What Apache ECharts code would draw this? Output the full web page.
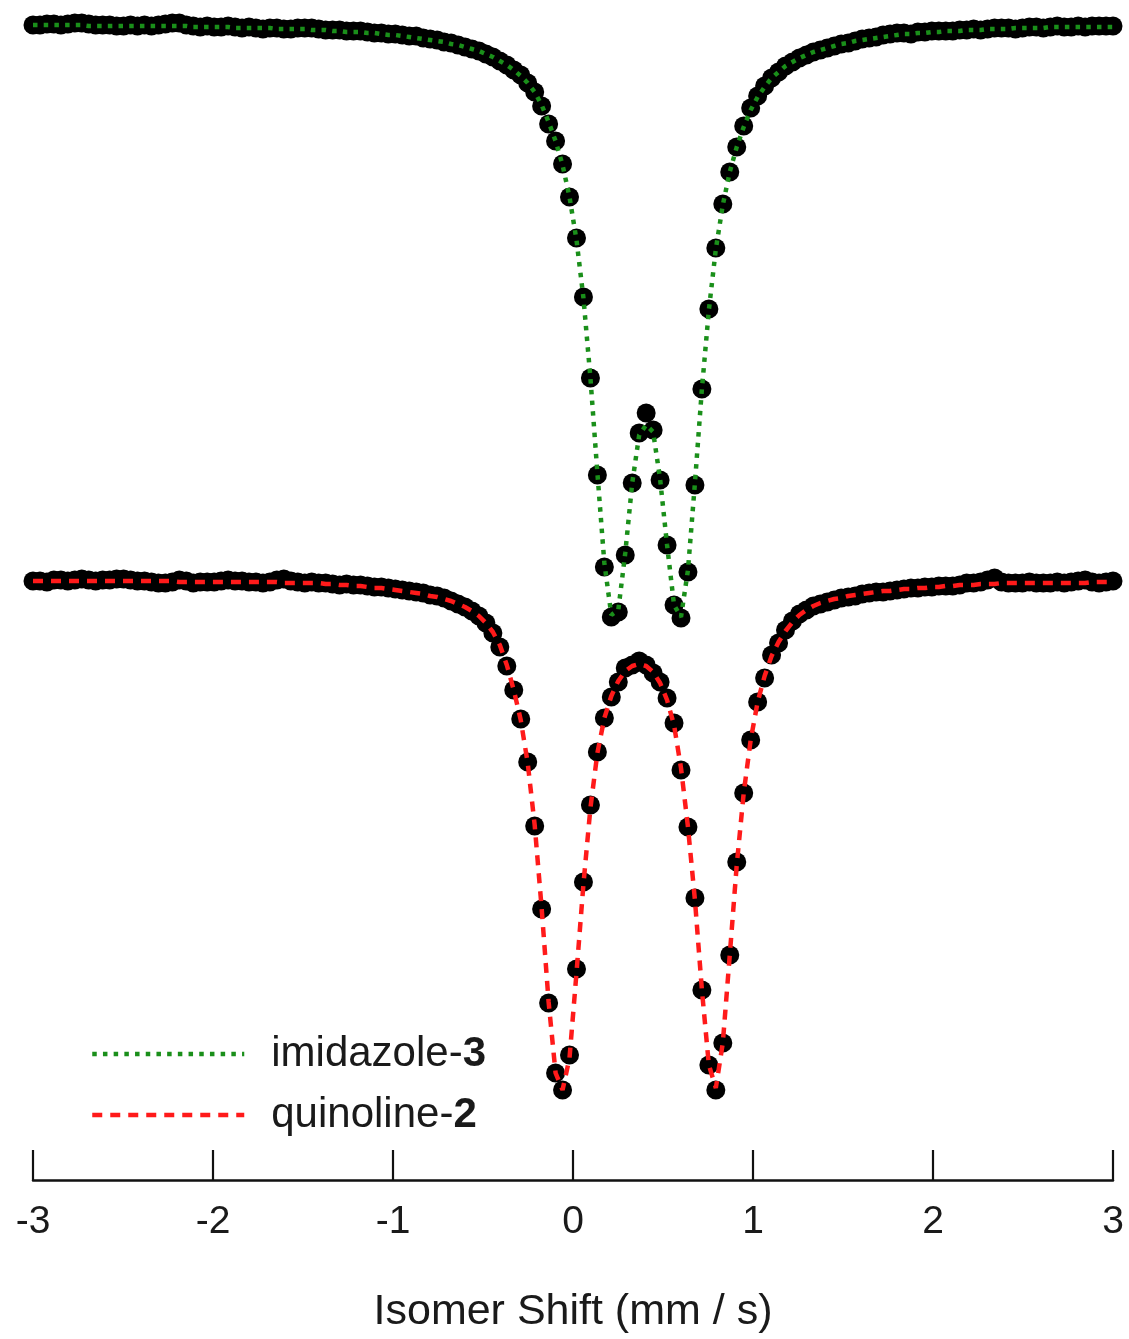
<!DOCTYPE html>
<html><head><meta charset="utf-8">
<script src="https://cdn.jsdelivr.net/npm/echarts@6/dist/echarts.min.js"></script>
<style>html,body{margin:0;padding:0;background:#fff}#chart{width:1129px;height:1339px}</style>
</head><body><div id="chart"></div>
<script>
// Velocity channels (mm/s), evenly spaced from -3 to 3
const velocityStart = -3, velocityEnd = 3, channelCount = 156;
const xTicks = [-3, -2, -1, 0, 1, 2, 3];
const seriesNames = ['imidazole-3', 'quinoline-2'];
const axisTitle = 'Isomer Shift (mm / s)';

// Relative transmission (%), imidazole-3 (upper spectrum)
const imidazoleData = [
 100.00,100.00,100.01,100.01,100.00,100.01,100.02,100.02,100.01,100.00,
 100.00,100.00,99.99,99.99,100.00,99.99,100.00,99.99,100.00,100.01,
 100.02,100.02,100.00,99.99,99.98,99.99,99.98,99.98,99.99,99.98,
 99.97,99.98,99.97,99.96,99.97,99.97,99.96,99.96,99.97,99.97,
 99.97,99.96,99.95,99.95,99.95,99.94,99.94,99.94,99.93,99.92,
 99.92,99.91,99.91,99.90,99.89,99.89,99.87,99.86,99.85,99.83,
 99.82,99.80,99.78,99.76,99.74,99.71,99.68,99.64,99.60,99.55,
 99.50,99.42,99.33,99.19,99.01,98.84,98.61,98.28,97.87,97.28,
 96.47,95.50,94.58,94.08,94.13,94.70,95.42,95.92,96.12,95.95,
 95.45,94.80,94.20,94.07,94.53,95.40,96.36,97.16,97.77,98.21,
 98.53,98.78,98.99,99.17,99.29,99.39,99.47,99.53,99.59,99.63,
 99.67,99.70,99.73,99.75,99.77,99.79,99.81,99.82,99.84,99.86,
 99.87,99.88,99.90,99.91,99.92,99.92,99.91,99.93,99.93,99.94,
 99.94,99.94,99.94,99.95,99.95,99.96,99.95,99.96,99.97,99.97,
 99.97,99.96,99.97,99.98,99.98,99.97,99.98,99.99,99.98,99.98,
 99.99,99.98,99.99,99.99,99.99,99.99];
const imidazoleFit = [
 100.00,100.00,100.00,100.00,100.00,100.00,100.00,100.00,99.99,99.99,
 99.99,99.99,99.99,99.99,99.99,99.99,99.99,99.99,99.99,99.99,
 99.99,99.99,99.99,99.98,99.98,99.98,99.98,99.98,99.98,99.97,
 99.97,99.97,99.97,99.97,99.97,99.96,99.96,99.96,99.96,99.96,
 99.95,99.95,99.95,99.94,99.94,99.93,99.93,99.93,99.92,99.92,
 99.91,99.90,99.90,99.89,99.88,99.87,99.86,99.85,99.84,99.83,
 99.81,99.80,99.78,99.76,99.74,99.71,99.68,99.64,99.60,99.55,
 99.49,99.42,99.33,99.20,99.03,98.84,98.60,98.28,97.85,97.27,
 96.47,95.52,94.62,94.10,94.15,94.72,95.42,95.90,96.00,95.93,
 95.46,94.80,94.20,94.08,94.55,95.42,96.36,97.15,97.76,98.20,
 98.53,98.78,98.98,99.15,99.28,99.38,99.47,99.53,99.59,99.63,
 99.67,99.70,99.73,99.75,99.77,99.79,99.81,99.82,99.84,99.85,
 99.86,99.87,99.88,99.89,99.90,99.91,99.91,99.92,99.92,99.93,
 99.93,99.94,99.94,99.94,99.95,99.95,99.95,99.96,99.96,99.96,
 99.96,99.97,99.97,99.97,99.97,99.97,99.98,99.98,99.98,99.98,
 99.98,99.98,99.98,99.98,99.98,99.98];

// Relative transmission (%), quinoline-2 (lower spectrum, plotted with offset)
const quinolineOffset = -5.55;
const quinolineData = [
 99.99,99.99,99.98,100.00,100.00,99.99,100.00,100.01,100.00,99.99,
 100.00,100.00,100.01,100.01,100.00,99.99,99.99,99.98,99.97,99.97,
 99.98,100.00,99.99,99.97,99.98,99.98,99.98,99.99,100.00,99.99,
 99.99,99.98,99.98,99.97,99.98,100.00,100.01,99.99,99.98,99.97,
 99.98,99.97,99.97,99.96,99.95,99.96,99.95,99.95,99.94,99.93,
 99.93,99.92,99.91,99.90,99.89,99.88,99.87,99.85,99.84,99.82,
 99.79,99.76,99.73,99.69,99.64,99.57,99.47,99.33,99.14,98.90,
 98.61,98.18,97.54,96.71,95.77,95.07,94.90,95.25,96.11,96.98,
 97.75,98.28,98.62,98.83,98.98,99.12,99.15,99.19,99.15,99.07,
 98.98,98.82,98.57,98.10,97.53,96.82,95.90,95.15,94.90,95.37,
 96.25,97.18,97.87,98.40,98.78,99.02,99.25,99.37,99.50,99.59,
 99.66,99.70,99.74,99.76,99.78,99.80,99.82,99.83,99.84,99.86,
 99.87,99.88,99.88,99.89,99.90,99.91,99.92,99.92,99.93,99.93,
 99.94,99.94,99.94,99.95,99.97,99.97,99.98,100.00,100.02,99.98,
 99.97,99.97,99.97,99.98,99.97,99.97,99.97,99.98,99.97,99.98,
 99.99,100.00,99.98,99.97,99.98,99.99];
const quinolineFit = [
 99.99,99.99,99.99,99.99,99.99,99.99,99.99,99.99,99.99,99.99,
 99.99,99.99,99.99,99.99,99.99,99.99,99.99,99.99,99.99,99.99,
 99.99,99.98,99.98,99.98,99.98,99.98,99.98,99.98,99.98,99.98,
 99.98,99.98,99.98,99.98,99.98,99.98,99.97,99.97,99.97,99.97,
 99.97,99.97,99.96,99.96,99.95,99.95,99.94,99.94,99.93,99.92,
 99.92,99.91,99.90,99.89,99.88,99.87,99.86,99.84,99.83,99.81,
 99.79,99.76,99.73,99.69,99.64,99.57,99.48,99.35,99.15,98.90,
 98.60,98.17,97.55,96.72,95.78,95.07,94.90,95.22,96.07,96.96,
 97.72,98.27,98.62,98.84,98.99,99.09,99.14,99.16,99.14,99.08,
 98.97,98.80,98.55,98.12,97.53,96.80,95.90,95.15,94.92,95.37,
 96.25,97.15,97.87,98.40,98.78,99.04,99.24,99.38,99.49,99.58,
 99.65,99.70,99.74,99.77,99.79,99.81,99.82,99.84,99.85,99.86,
 99.87,99.88,99.89,99.89,99.90,99.91,99.91,99.92,99.92,99.93,
 99.93,99.94,99.94,99.95,99.95,99.95,99.96,99.96,99.96,99.97,
 99.97,99.97,99.97,99.97,99.97,99.97,99.97,99.97,99.97,99.97,
 99.97,99.97,99.98,99.98,99.98,99.98];

const velocity = [];
for (let i = 0; i < channelCount; i++) {
  velocity.push(velocityStart + i * (velocityEnd - velocityStart) / (channelCount - 1));
}
const pairs = (vals, off) => vals.map((v, i) => [velocity[i], +(v + off).toFixed(3)]);

const FONT = '"Liberation Sans", Arial, sans-serif';
const GREEN = '#1a8f1a', RED = '#ff1a1a', TEXT = '#1a1a1a';

const chart = echarts.init(document.getElementById('chart'), null, {renderer: 'canvas'});
chart.setOption({
  animation: false,
  backgroundColor: '#ffffff',
  grid: {left: 33, right: 16, top: 0, bottom: 159, containLabel: false},
  xAxis: {
    type: 'value', min: -3, max: 3, interval: 1,
    axisLine: {show: true, onZero: false, lineStyle: {color: '#111', width: 2.5}},
    axisTick: {show: true, inside: true, length: 30, lineStyle: {color: '#111', width: 2.2}},
    axisLabel: {fontSize: 39, color: TEXT, fontFamily: FONT, margin: 23,
      formatter: v => xTicks.includes(v) ? String(v) : ''},
    splitLine: {show: false},
    name: axisTitle, nameLocation: 'middle', nameGap: 111,
    nameTextStyle: {fontSize: 43, color: TEXT, fontFamily: FONT}
  },
  yAxis: {type: 'value', min: 88.45, max: 100.25, show: false, splitLine: {show: false}},
  legend: {
    data: [
      {name: seriesNames[0], itemStyle: {opacity: 0},
        lineStyle: {color: GREEN, width: 4.5, type: [4.5, 6.2], cap: 'butt'}},
      {name: seriesNames[1], itemStyle: {opacity: 0},
        lineStyle: {color: RED, width: 4.5, type: [10, 8], cap: 'butt'}}
    ],
    orient: 'vertical', left: 85, top: 1028,
    itemWidth: 152, itemHeight: 14, itemGap: 19, selectedMode: false,
    formatter: name => {
      const k = name.lastIndexOf('-');
      return '{sp|}{n|' + name.slice(0, k + 1) + '}{b|' + name.slice(k + 1) + '}';
    },
    textStyle: {
      rich: {
        sp: {width: 22},
        n: {fontSize: 42, fontFamily: FONT, color: TEXT, lineHeight: 48},
        b: {fontSize: 42, fontFamily: FONT, color: TEXT, lineHeight: 48, fontWeight: 'bold'}
      }
    }
  },
  series: [
    {name: 'imidazole-3 data', type: 'scatter', data: pairs(imidazoleData, 0),
      symbol: 'circle', symbolSize: 19, itemStyle: {color: '#000', opacity: 1}, clip: false, z: 2},
    {name: 'quinoline-2 data', type: 'scatter', data: pairs(quinolineData, quinolineOffset),
      symbol: 'circle', symbolSize: 19, itemStyle: {color: '#000', opacity: 1}, clip: false, z: 2},
    {name: seriesNames[0], type: 'line', data: pairs(imidazoleFit, 0), symbol: 'none',
      showSymbol: false, clip: false, z: 5, itemStyle: {color: GREEN},
      lineStyle: {color: GREEN, width: 4.5, type: [4.5, 6.2], cap: 'butt'}},
    {name: seriesNames[1], type: 'line', data: pairs(quinolineFit, quinolineOffset), symbol: 'none',
      showSymbol: false, clip: false, z: 5, itemStyle: {color: RED},
      lineStyle: {color: RED, width: 4.5, type: [10, 8], cap: 'butt'}}
  ]
});
</script>
</body></html>
